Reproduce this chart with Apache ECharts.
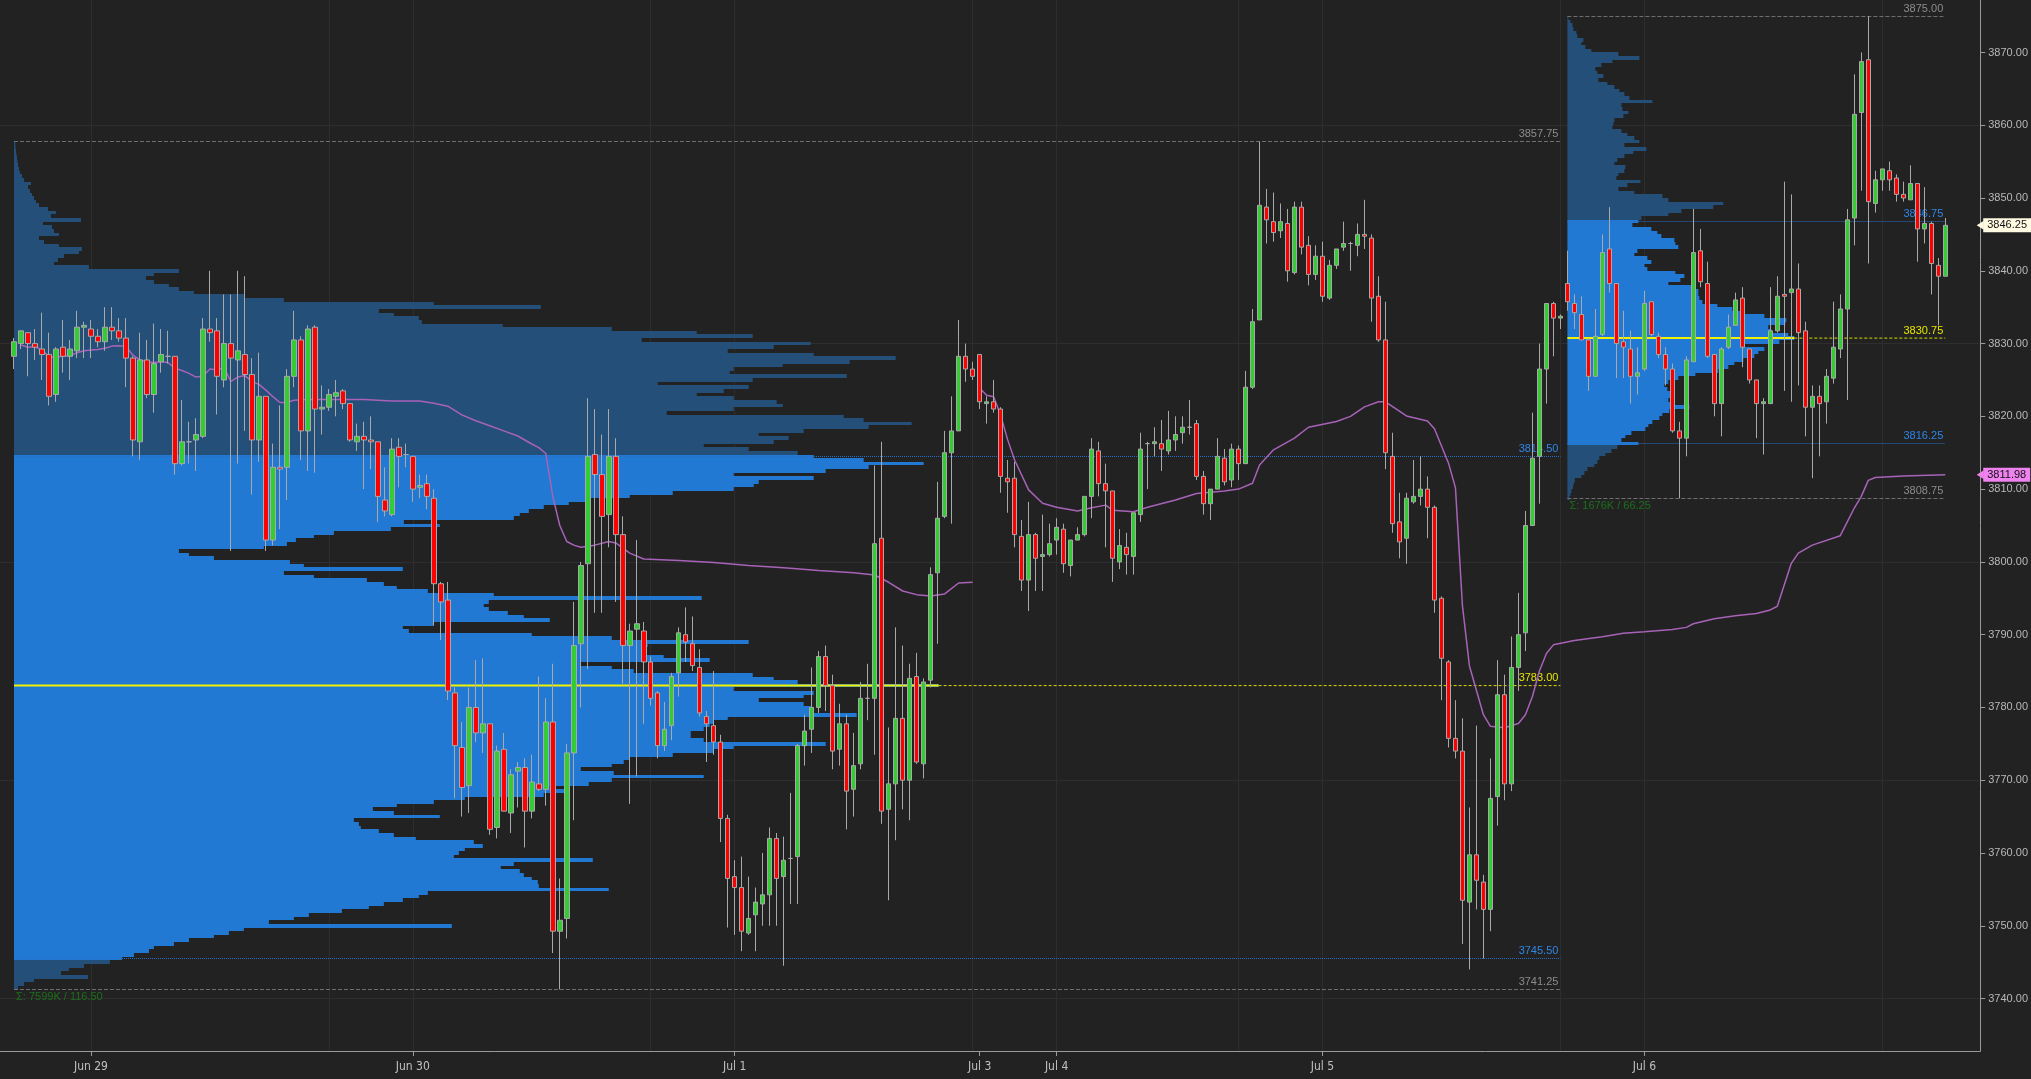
<!DOCTYPE html>
<html><head><meta charset="utf-8">
<script src="https://cdn.jsdelivr.net/npm/echarts@6/dist/echarts.min.js"></script>
<style>html,body{margin:0;padding:0;background:#222222;}#c{width:2031px;height:1079px;}</style>
</head><body><div id="c"></div>
<script>
// ---------- DATA ----------
// 30-minute bars, sessions (label, bar count)
const SESSIONS = [['Jun 28',11],['Jun 29',46],['Jun 30',46],['Jul 1',35],['Jul 3',11],['Jul 4',38],['Jul 5',46],['Jul 6',44]];

const OPEN = [3828.25,3830,3831.5,3830,3829.25,3828.5,3823,3829.5,3828.25,3829,
3832.25,3832,3831,3830.25,3832.25,3831.75,3830.75,3828,3816.5,3827.75,
3823,3827.5,3828.25,3828.25,3813.5,3816.5,3816.75,3817.25,3832,3831.75,
3825,3830,3827.75,3828.5,3825.75,3816.75,3822.75,3803,3813,3813,
3825.5,3830.5,3818,3832.25,3821,3821.25,3822.75,3823.5,3821.75,3816.5,
3817.25,3816.75,3816.5,3808.5,3806.5,3815.75,3814.75,3814.5,3810.25,3810.75,
3808.75,3797,3794.75,3782,3774.5,3769.25,3780,3776.5,3777.75,3763.5,
3774.25,3765.5,3771.25,3771.75,3765.75,3769.5,3768.75,3778,3749.25,3751,
3773.75,3788.75,3799.75,3814.75,3812,3806.5,3814.5,3803.75,3788.5,3790.75,
3790.5,3786.25,3782,3774.75,3777.5,3784.75,3790,3788.75,3785.5,3778.75,
3777.5,3775.25,3764.75,3756.75,3755.25,3749,3751.5,3753,3754.25,3762,
3756.75,3759.25,3759.5,3774.75,3777,3780,3787,3783,3774.25,3777.75,
3768.75,3772.25,3781.25,3781.25,3803.25,3766,3769.5,3778.5,3770,3784.25,
3772.25,3783.75,3798.5,3806.25,3815,3818,3828.25,3826.5,3828.5,3821.75,
3822,3821,3811.5,3811.5,3803.5,3797.5,3803.75,3800.75,3801,3803,
3804.5,3799.5,3803,3803.75,3809,3815.25,3810.75,3809.75,3800,3802,
3800.75,3806.5,3816.25,3816.25,3816.25,3815.25,3816.75,3817.75,3818.5,3819,
3811.75,3808,3810,3814.25,3811.25,3815.5,3813.5,3824,3833.25,3848.75,
3846.75,3845.5,3846.5,3839.75,3848.75,3843.5,3839.5,3842,3836.25,3840.75,
3843.25,3843.75,3843.5,3845,3844.5,3836.5,3830.5,3814.5,3805.5,3803.25,
3808.25,3809,3810,3807.5,3795,3786.25,3775.75,3774,3753.25,3759.75,
3756,3752.25,3767.75,3781.75,3769.5,3785.5,3790.25,3805,3814.5,3826.5,
3835.5,3833.5,3838.25,3835.5,3834,3830.5,3825.5,3831.25,3843,3838.25,
3830.25,3829.25,3825.5,3826.5,3835.75,3831,3828.5,3826.5,3818,3817,
3827.5,3842.75,3838.25,3828.5,3821.75,3829.5,3832.5,3836.25,3829.25,3825,
3821.75,3821.75,3831.75,3836.75,3837,3837.5,3831.75,3821.25,3822.75,3822,
3825.25,3829.25,3834.75,3847.25,3861.75,3869,3849.25,3852.5,3853.75,3852.75,
3850.5,3849.75,3852,3845.75,3846.5,3840.75,3839.25];

const HIGH = [3830.75,3831.75,3831.5,3832,3834.25,3831.5,3829.5,3833.25,3830.5,3834.5,
3833,3833.25,3832,3835,3835,3833.5,3833.5,3828.25,3831.5,3830.5,
3832.75,3832,3831.75,3828.25,3822.25,3819.25,3819.75,3833.5,3840,3833.5,
3836.75,3836.75,3840,3839.25,3828,3828.75,3822.75,3816.25,3821.5,3826.5,
3834.5,3831,3832.5,3832.5,3824.25,3823.75,3825,3823.75,3821.75,3819,
3819.25,3820,3816.5,3813,3817,3817,3816.25,3814.5,3812,3812,
3810,3797.25,3797.25,3782.75,3778,3782.75,3786.5,3786.75,3777.75,3774.75,
3776.5,3771.5,3772.5,3773,3773.5,3784.25,3781.25,3786,3756.5,3775,
3794.5,3800,3822.5,3821,3817.5,3821,3817,3806.25,3791.5,3803,
3791.75,3787,3782.25,3780.75,3784.75,3791,3793.75,3792.5,3788,3779.5,
3785,3776.25,3765.25,3759,3759.5,3756.75,3755.25,3760,3763.5,3762.75,
3762.25,3768.25,3775,3779,3785.5,3787.75,3788.5,3784.5,3780.5,3779,
3776.5,3783.5,3786,3813.25,3816.5,3777.25,3791,3788.5,3786,3787.5,
3784,3799.25,3811,3818,3822.75,3833.25,3830,3827.5,3828.5,3822.75,
3825,3821.25,3814,3813.75,3805.75,3808.25,3804,3806.5,3805.25,3806,
3805.25,3803,3804.75,3809,3817,3816.5,3813.5,3809.75,3804.5,3804,
3806.75,3817.75,3816.5,3818.5,3819.5,3820.75,3820,3820,3822.25,3819.5,
3812.5,3810,3817,3815.5,3816.25,3816,3826.25,3834.75,3857.75,3851.25,
3850.75,3849.25,3848.5,3849.5,3849.5,3844.75,3843.5,3844,3841.5,3843,
3846.75,3844,3846.5,3849.75,3845,3839.25,3835.75,3817.75,3809.5,3809.5,
3814,3814.5,3811.75,3807.75,3795.25,3786.5,3781,3778.5,3766.25,3777.5,
3757,3773,3786.5,3784.5,3789.75,3795.75,3807,3820.5,3830,3835.5,
3835.75,3834,3842.75,3836.75,3836.5,3830.75,3834.75,3845,3848.75,3838.25,
3834.5,3831.75,3829.5,3837.25,3835.75,3831.5,3829.5,3827.25,3819.25,3828.25,
3848.5,3845.75,3841.25,3828.5,3829.5,3834,3837,3837.75,3829.25,3825,
3822.5,3837.75,3839.25,3852.25,3850.5,3841,3833,3824.25,3824.25,3826.5,
3835.75,3836.75,3848.5,3867,3870,3875,3853.75,3854,3855,3853.25,
3852.25,3854.5,3852,3851.5,3846.75,3841.75,3847.25];

const LOW = [3826.5,3829.25,3825.5,3827.75,3825,3821.5,3822,3826,3825,3828,
3828,3828,3829.5,3829,3830.5,3830.25,3824,3814.5,3814,3822.5,
3820.5,3826,3827.25,3812,3813.25,3813.5,3812.5,3817,3830.25,3820.25,
3824,3801.5,3813.5,3818,3809.25,3813.75,3801.5,3802.25,3804.5,3808.5,
3824,3814,3812.5,3812.25,3817.5,3820.75,3820,3821,3816.5,3815.25,
3810,3812.75,3805.5,3806.25,3806.25,3810.25,3813,3808.25,3808.75,3807.25,
3791.25,3789.25,3781,3767.5,3765,3765.5,3775.25,3773.75,3762.5,3762,
3765.75,3762.75,3766.25,3760.75,3764.75,3768.5,3766.5,3746.25,3741.25,3748.25,
3764.5,3780,3785.25,3793,3793,3802,3794.5,3783.25,3766.75,3770.5,
3777.75,3780.25,3773,3774,3775.5,3781.5,3786.25,3785,3778.75,3772.5,
3773.5,3761.5,3749.75,3748.75,3746.5,3748.75,3746.5,3750,3750,3750,
3744.5,3753,3753,3772,3773.75,3779.25,3779.5,3771.5,3772,3763.25,
3765,3771.5,3778.25,3773.5,3764,3753.5,3761.75,3766,3764.5,3772.25,
3770.25,3782.75,3788.75,3806,3805.25,3818,3824.75,3825,3821,3819,
3820.5,3809.5,3806.75,3802,3796,3793.25,3796,3796,3800.75,3801,
3798.5,3798,3803,3803.5,3806,3809,3802,3797.25,3799,3798.25,
3798.25,3805.5,3810,3814.5,3812.5,3814.75,3815.25,3816.25,3817.5,3811.25,
3806.5,3805.75,3810,3810.5,3810.25,3811.25,3813.5,3823.75,3833.25,3843.75,
3844,3844.5,3838.5,3839.5,3842.25,3838,3838.75,3835.75,3836,3840.25,
3842.75,3840,3842,3843,3833,3830.25,3812.75,3804,3800.5,3799.75,
3808,3807.75,3803.25,3793,3781,3774.5,3773,3747.5,3744,3752.25,
3745.5,3749.25,3763.75,3767.25,3768.5,3782.25,3787.75,3805,3808,3821.75,
3828.25,3832,3834.5,3832,3830.5,3823.5,3825.5,3831,3837,3825.25,
3825.25,3821.75,3823,3826.25,3831,3828,3824.25,3817.75,3808.75,3814.5,
3827.5,3837.75,3828,3820,3817.25,3829.25,3832.5,3826.75,3824.5,3817,
3814.75,3821.75,3831.5,3823.5,3822,3824.25,3817.25,3811.5,3814.5,3819,
3824.5,3828,3822.25,3843.5,3851,3841,3848,3851,3851,3849.5,
3849.5,3849.75,3841.25,3843.75,3836.75,3832.5,3839.25];

const CLOSE = [3830.25,3831.75,3830,3829.5,3828.5,3822.75,3829.25,3828.25,3829.25,3832.25,
3832.5,3831,3830.25,3832.25,3831.75,3830.75,3828,3816.75,3827.75,3823,
3827.25,3828.5,3828.25,3813.5,3816.5,3816.5,3817.5,3832,3831.5,3825.5,
3830,3828,3829,3825.75,3816.75,3822.75,3803,3813,3812.75,3825.5,
3830.5,3818,3832,3821,3821.25,3823,3823.25,3821.75,3816.75,3817.25,
3816.75,3816.5,3809,3807,3815.5,3814.5,3814.75,3810,3810.5,3809,
3797,3794.5,3782.25,3774.75,3769,3780,3776.5,3777.75,3763.25,3774,
3765.75,3770.75,3771.75,3765.75,3769.75,3768.75,3778,3749.25,3750.75,3773.75,
3788.5,3799.5,3814.5,3812,3806.25,3814.5,3803.75,3788.5,3790.5,3791.5,
3786.25,3781.25,3774.75,3777,3784.25,3790.25,3789,3785.75,3779.25,3777.75,
3775.25,3764.75,3756.5,3755.25,3749.25,3751,3753.25,3754.25,3762,3756.5,
3759,3759.25,3774.75,3776.75,3780,3787,3783,3774,3777.75,3768.5,
3772,3781.25,3781.25,3802.5,3765.75,3769.5,3778.5,3770,3784,3772.5,
3783.5,3798.25,3806,3815,3818,3828.25,3826.5,3825.5,3822,3822,
3821,3811.75,3811,3803.75,3797.5,3803.75,3800.5,3801,3802.5,3804.75,
3799.75,3803,3803.75,3809,3815.5,3810.75,3809.75,3800.5,3802.25,3801,
3806.75,3815.5,3816.25,3816.5,3815.5,3816.75,3817.5,3818.5,3818.5,3811.75,
3808,3810,3814.5,3811,3815.5,3813.5,3824,3833,3849,3847,
3845.25,3846.75,3840,3848.75,3843.25,3839.5,3842,3836.5,3840.75,3843,
3843.75,3843.75,3845,3844.75,3836.25,3830.5,3815,3805.25,3802.75,3808.75,
3809,3810,3807.5,3794.75,3786.75,3775.75,3774,3753.5,3759.75,3756.25,
3752.25,3767.5,3781.75,3769.5,3785.5,3790,3805,3814.25,3826.5,3835.5,
3833.5,3833.75,3835.75,3834.25,3830.5,3825.5,3831,3842.5,3838.25,3830,
3829.5,3825.5,3826,3835.5,3831.25,3828.5,3826.5,3818,3817,3827.75,
3842.5,3838.5,3828.25,3821.75,3829.25,3832.25,3836,3829.5,3825,3821.75,
3822,3831.75,3836.5,3836.5,3837.5,3831.5,3821.25,3822.75,3821.75,3825.5,
3829.5,3834.75,3847,3861.5,3868.75,3849.5,3852.5,3854,3852.5,3850.5,
3850,3852,3845.75,3846.5,3841,3839.25,3846.25];

// VWAP lines: [bar index, value]
const VWAP_1 = [[1,3829.8],[2,3829.5],[3,3829.6],[4,3829.1],[5,3828.2],[6,3828.1],[7,3828.3],[8,3828.3],[9,3828.75],[10,3829.0],[11,3829.1],[12,3829.2],[13,3829.35],[14,3829.65],[15,3829.7],[16,3829.6],[17,3828.4],[18,3827.75],[19,3827.5],[20,3827.4],[21,3827.5],[22,3827.4],[23,3826.6],[24,3826.3],[25,3825.9],[26,3825.4],[27,3825.5],[28,3826.5],[29,3826.4],[30,3826.7],[31,3824.8],[32,3825.4],[33,3825.6],[34,3824.8],[35,3824.4],[36,3823.6],[37,3822.7],[38,3821.9],[39,3821.9],[40,3822.2],[42,3822.3],[46,3822.3],[50,3822.3],[54,3822.1],[58,3822.1],[60,3821.8],[62,3821.4],[64,3820.2],[66,3819.4],[68,3818.7],[70,3818],[72,3817.3],[74,3816.2],[75,3815.7],[76,3814.9],[77,3809],[78,3805],[79,3802.8],[80,3802.3],[81,3802],[83,3802.3],[85,3802.8],[86,3802.6],[88,3801.2],[90,3800.4],[95,3800.2],[100,3799.9],[105,3799.5],[110,3799.2],[115,3798.8],[120,3798.5],[123,3798.2],[125,3797.2],[127,3796],[129,3795.5],[131,3795.3],[133,3795.6],[135,3797.1],[137,3797.2]];
const VWAP_2 = [[138,3823.9],[139,3822.9],[140,3822.7],[141,3820.2],[142,3816.8],[143,3814],[145,3809.9],[147,3808.05],[149,3807.5],[152,3807.0],[154,3807.45],[156,3807.8],[157,3807.1],[160,3806.9],[162,3807.5],[166,3808.5],[169,3809.4],[173,3809.75],[175,3810],[177,3810.8],[178,3813.3],[180,3815.4],[183,3817],[185,3818.5],[189,3819.3],[191,3820],[193,3821.3],[195,3822],[196,3822],[199,3820.05],[202,3819.35],[203,3818.3],[205,3813.6],[206,3810.2],[207,3794],[208,3785.7],[210,3779],[211,3777.4],[213,3777.2],[215,3777.8],[216,3779],[217,3781.5],[218,3785],[219,3787.4],[220,3788.6],[223,3789.2],[227,3789.7],[230,3790.2],[233,3790.4],[237,3790.7],[239,3791],[240,3791.5],[243,3792.2],[246,3792.6],[249,3792.9],[251,3793.4],[252,3793.9],[254,3799.8],[255,3801.2],[257,3802.3],[261,3803.6],[263,3807.4],[264,3809],[265,3811.2],[266,3811.6],[270,3811.8],[276,3811.98]];

// Volume profile 1 (Jun 28 - Jul 5): volume per 0.5-pt row, rows from 3741.50 upward
const P1_VOL = [4,10,20,74,47,55,70,96,108,120,135,140,160,175,200,215,230,438,255,280,
295,328,355,370,389,405,414,595,525,524,518,510,506,487,500,579,440,445,451,469,
460,402,380,365,347,345,340,426,380,359,383,420,451,530,555,536,575,598,690,600,
567,598,610,616,659,700,720,812,690,677,677,690,696,700,714,843,800,797,790,745,
790,800,720,925,784,760,739,620,598,567,696,650,628,630,634,735,598,518,395,389,
420,536,510,494,475,470,475,688,480,414,383,370,353,300,270,389,290,276,200,175,
165,250,273,282,300,320,377,426,390,500,506,515,530,555,573,616,659,720,740,745,
800,720,812,855,910,850,800,784,735,690,760,775,745,790,855,898,850,830,653,720,
769,763,720,683,710,735,644,739,833,716,720,769,836,882,800,714,760,797,628,739,
683,598,489,408,405,380,365,527,420,270,230,180,165,155,140,132,140,165,75,40,
44,50,65,68,45,30,25,45,40,38,29,67,37,42,34,25,22,20,18,16,
14,17,10,8,6,5,4,3.5,3,2.5,2,1.5,1.3];
const P1 = {firstRow:3741.5, startBar:0, endBar:221, high:3857.75, low:3741.25, vah:3814.5, val:3745.5, poc:3783.0, total:'7599K', range:'116.50'};

// Volume profile 2 (Jul 6 session): rows from 3808.75 upward
const P2_VOL = [2,3,4,5.7,6.5,7.5,14,17,20,27,30,32,38,44,50,71,54,58,64,78,
81,85,92,95,102,122,104,101,107,104,100,97,101,111,128,151,161,167,176,187,
191,197,177,212,227,221,204,201,218,219,197,177,165,150,135,132,131,131,124,101,
113,117,108,80,77,84,80,67,70,111,108,107,94,90,84,65,71,74,101,114,
146,156,101,95,67,51,60,73,49,51,57,58,47,50,57,66,79,57,72,67,
60,54,45,46,47,56,61,55,54,85,62,57,52,47,40,31,36,30,28,34,
45,72,51,24,18,14,16,10,9,6,5,3,1];
const P2 = {firstRow:3808.75, startBar:222, endBar:276, high:3875.0, low:3808.75, vah:3846.75, val:3816.25, poc:3830.75, total:'1676K', range:'66.25'};

const Y_TICKS = [3740,3750,3760,3770,3780,3790,3800,3810,3820,3830,3840,3850,3860,3870];
const Y_GRID = [3740,3770,3800,3830,3860];
const V_GRID_BARS = [11,45,57,91,103,137,149,175,187,221,233,267];
const LAST_PRICE = 3846.25;
const LAST_VWAP = 3811.98;

// ---------- LAYOUT / STYLE ----------
const LEAD_PAD = 2, TRAIL_PAD = 5, ROW = 0.5, VOL_PER_SLOT = 7;
const Y_MIN = 3732.79, Y_MAX = 3877.21;
const FONT = "'Liberation Sans', Arial, sans-serif";
const C_VA = '#2179d3', C_OUT = '#244f79';
const TAG_ARROW = 'path://M0,0 L10,0 L5,7 Z';

const cats = [];
for (let i = 0; i < LEAD_PAD; i++) cats.push('lead' + i);
SESSIONS.forEach(([d, n]) => { for (let k = 0; k < n; k++) cats.push(d + '#' + k); });
for (let i = 0; i < TRAIL_PAD; i++) cats.push('trail' + i);
const cat = i => i + LEAD_PAD;

const candleData = cats.map((c, idx) => {
  const i = idx - LEAD_PAD;
  if (i < 0 || i >= OPEN.length) return '-';
  return [OPEN[i], CLOSE[i], LOW[i], HIGH[i]];
});

function profileItems(vols, p) {
  return vols.map((v, k) => {
    const price = p.firstRow + k * ROW;
    let kind = (price >= p.val - 1e-6 && price <= p.vah + 1e-6) ? 1 : 0;
    if (Math.abs(price - p.poc) < 1e-6) kind = 2;
    return [cat(p.startBar), price, v, kind, cat(p.endBar)];
  });
}
const profileData = profileItems(P1_VOL, P1).concat(profileItems(P2_VOL, P2));

function renderProfile(params, api) {
  const x = api.value(0), price = api.value(1), vol = api.value(2), kind = api.value(3), xe = api.value(4);
  const top = api.coord([x, price + ROW / 2]);
  const bot = api.coord([x, price - ROW / 2]);
  const slot = api.size([1, 0])[0];
  const w = vol * slot / VOL_PER_SLOT;
  const y0 = Math.round(top[1]), y1 = Math.round(bot[1]);
  const rect = {type: 'rect', shape: {x: top[0], y: y0, width: w, height: Math.max(1, y1 - y0)},
    style: {fill: kind ? C_VA : C_OUT}};
  if (kind !== 2) return rect;
  const mid = api.coord([x, price]);
  const end = api.coord([xe, price]);
  return {type: 'group', children: [rect,
    {type: 'line', shape: {x1: mid[0], y1: mid[1], x2: mid[0] + w, y2: mid[1]}, style: {stroke: '#f2f200', lineWidth: 2}},
    {type: 'line', shape: {x1: mid[0] + w, y1: mid[1], x2: end[0], y2: mid[1]}, style: {stroke: '#d8d800', lineWidth: 1, lineDash: [3, 2]}}
  ]};
}

function levelLines(p) {
  const s = cat(p.startBar), e = cat(p.endBar);
  const seg = (y, color, type, lblColor, labelText, pos) => [
    {coord: [s, y], lineStyle: {color: color, type: type, width: 1},
     label: {show: true, position: pos || 'insideEndTop', color: lblColor, formatter: labelText, fontSize: 11, fontFamily: FONT, distance: 2}},
    {coord: [e, y]}
  ];
  return [
    seg(p.high, '#6f6f6f', 'dashed', '#8c8c8c', p.high.toFixed(2)),
    seg(p.low, '#6f6f6f', 'dashed', '#8c8c8c', p.low.toFixed(2)),
    seg(p.vah, '#2a6fc4', 'dotted', '#2f86e6', p.vah.toFixed(2)),
    seg(p.val, '#2a6fc4', 'dotted', '#2f86e6', p.val.toFixed(2)),
    seg(p.poc, 'rgba(0,0,0,0)', 'solid', '#e6e600', p.poc.toFixed(2)),
    seg(p.low, 'rgba(0,0,0,0)', 'solid', '#1d6f1d', 'Σ: ' + p.total + ' / ' + p.range, 'insideStartBottom')
  ];
}

function priceTag(value, bg) {
  return {silent: true, z: 20, symbol: ['none', TAG_ARROW], symbolSize: [9, 7], animation: false,
    data: [{yAxis: value, lineStyle: {color: bg, width: 0},
      label: {show: true, position: 'end', distance: 3, formatter: value.toFixed(2), color: '#111',
        backgroundColor: bg, padding: [2, 4, 1, 4], fontSize: 11, fontFamily: FONT}}]};
}

const chart = echarts.init(document.getElementById('c'), null, {renderer: 'canvas'});
chart.setOption({
  backgroundColor: '#222222',
  animation: false,
  grid: {left: 0, right: 49, top: 0, bottom: 28, containLabel: false},
  xAxis: {
    type: 'category', data: cats, boundaryGap: false,
    axisLine: {lineStyle: {color: '#9a9a9a'}},
    axisTick: {show: true, alignWithLabel: true, length: 5, lineStyle: {color: '#9a9a9a'},
      interval: (i, v) => /#0$/.test(v) && !v.startsWith('Jun 28')},
    axisLabel: {color: '#c0c0c0', fontSize: 12, margin: 10,
      fontFamily: "'Liberation Sans Narrow', 'DejaVu Sans Condensed', 'Liberation Sans', sans-serif",
      interval: (i, v) => /#0$/.test(v) && !v.startsWith('Jun 28'),
      formatter: v => v.split('#')[0]},
    splitLine: {show: false}
  },
  yAxis: {
    type: 'value', position: 'right', min: Y_MIN, max: Y_MAX, scale: true,
    axisLine: {show: true, lineStyle: {color: '#9a9a9a'}},
    axisTick: {show: true, length: 5, lineStyle: {color: '#9a9a9a'}, customValues: Y_TICKS},
    axisLabel: {color: '#b8b8b8', fontSize: 11, margin: 8, fontFamily: FONT,
      customValues: Y_TICKS, formatter: v => v.toFixed(2)},
    splitLine: {show: false}
  },
  series: [
    {name: 'grid', type: 'line', data: [], z: 0, silent: true,
     markLine: {silent: true, z: 0, symbol: ['none', 'none'], animation: false, label: {show: false},
       lineStyle: {color: '#2e2e2e', type: 'solid', width: 1},
       data: Y_GRID.map(v => ({yAxis: v})).concat(V_GRID_BARS.map(b => ({xAxis: cat(b)})))}},
    {name: 'profile', type: 'custom', data: profileData, renderItem: renderProfile, z: 1,
     encode: {x: 0, y: 1}, silent: true},
    {name: 'levels', type: 'line', data: [], z: 2, silent: true,
     markLine: {silent: true, z: 2, symbol: ['none', 'none'], animation: false,
       data: levelLines(P1).concat(levelLines(P2))}},
    {name: 'vwap1', type: 'line', data: VWAP_1.map(([b, v]) => [cat(b), v]), z: 3, symbol: 'none',
     lineStyle: {color: '#a862b8', width: 1.5}, silent: true},
    {name: 'vwap2', type: 'line', data: VWAP_2.map(([b, v]) => [cat(b), v]), z: 3, symbol: 'none',
     lineStyle: {color: '#a862b8', width: 1.5}, silent: true,
     markLine: priceTag(LAST_VWAP, '#ee82ee')},
    {name: 'price', type: 'candlestick', data: candleData, z: 4, barWidth: 5,
     itemStyle: {color: '#33cc33', color0: '#ff0000', borderColor: '#a9a9a9', borderColor0: '#a9a9a9', borderWidth: 1},
     markLine: priceTag(LAST_PRICE, '#fffbe2')}
  ]
});
</script>
</body></html>
